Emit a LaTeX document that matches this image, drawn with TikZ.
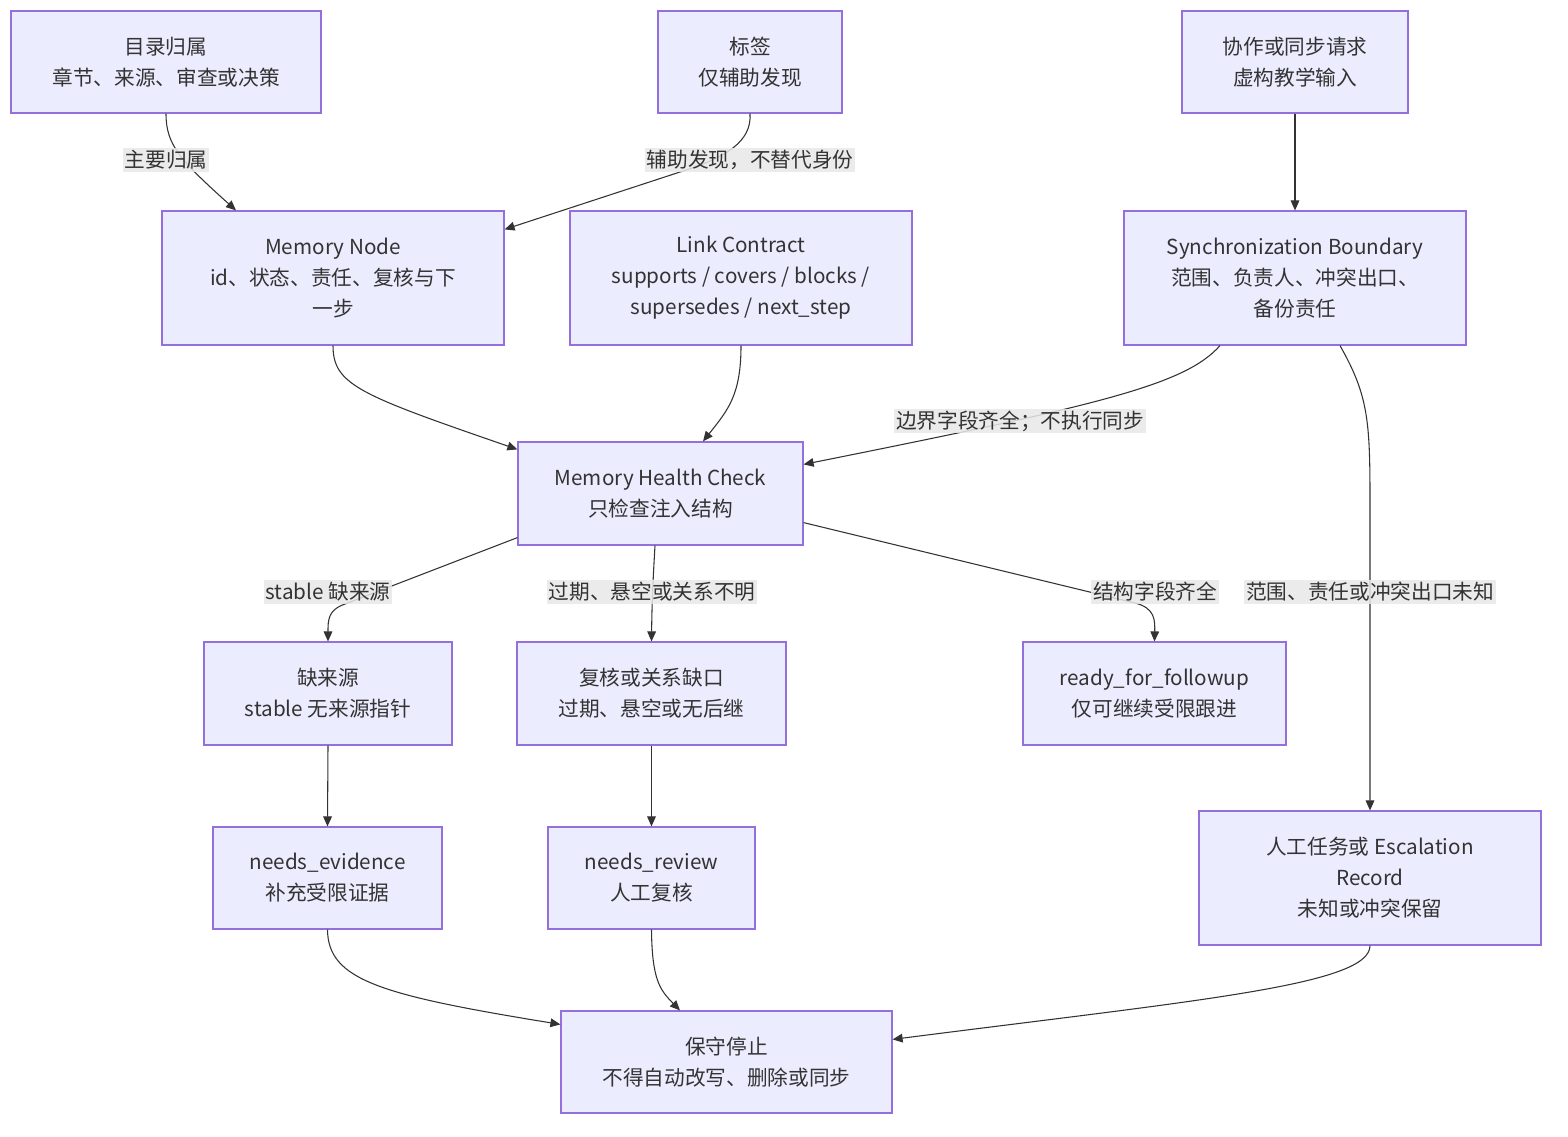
\documentclass[tikz,border=0pt]{standalone}
\usepackage{fontspec}
\setmainfont{Noto Sans CJK SC}
\usetikzlibrary{arrows.meta,calc}
\definecolor{nodefill}{HTML}{ECECFF}
\definecolor{nodeline}{HTML}{9370DB}
\definecolor{edgec}{HTML}{333333}
\definecolor{lblbg}{HTML}{E8E8E8}
\begin{document}
\begin{tikzpicture}[x=0.75pt,y=-0.75pt,
  box/.style={draw=nodeline,fill=nodefill,line width=0.9pt,align=center,text=edgec,
    font=\fontsize{15.5}{23.25}\selectfont,inner sep=0pt,anchor=center},
  lbl/.style={fill=lblbg,fill opacity=0.85,text opacity=1,text=edgec,inner sep=1.5pt,
    font=\fontsize{15.5}{19}\selectfont,anchor=center},
  edge/.style={draw=edgec,line width=0.8pt,-{Triangle[length=7.5pt,width=6.5pt]}}]
\useasboundingbox[fill=white] (0,0) rectangle (1568,1136);

\node[box,minimum width=232.5pt,minimum height=76.5pt] (n1) at (166,62) {目录归属\\章节、来源、审查或决策};
\node[box,minimum width=138pt,minimum height=76.5pt] (n2) at (750,62) {标签\\仅辅助发现};
\node[box,minimum width=169.5pt,minimum height=76.5pt] (n3) at (1295,62) {协作或同步请求\\虚构教学输入};
\node[box,minimum width=256.5pt,minimum height=100.5pt] (n4) at (333,278) {Memory Node\\id、状态、责任、复核与下\\一步};
\node[box,minimum width=256.5pt,minimum height=100.5pt] (n5) at (741,278) {Link Contract\\supports / covers / blocks /\\supersedes / next\_step};
\node[box,minimum width=256.5pt,minimum height=100.5pt] (n6) at (1295,278) {Synchronization Boundary\\范围、负责人、冲突出口、\\备份责任};
\node[box,minimum width=213.75pt,minimum height=77.25pt] (n7) at (660.5,493.5) {Memory Health Check\\只检查注入结构};
\node[box,minimum width=186pt,minimum height=77.25pt] (n8) at (328,693.5) {缺来源\\stable 无来源指针};
\node[box,minimum width=201.75pt,minimum height=77.25pt] (n9) at (651.5,693.5) {复核或关系缺口\\过期、悬空或无后继};
\node[box,minimum width=197.25pt,minimum height=77.25pt] (n10) at (1154.5,693.5) {ready\_for\_followup\\仅可继续受限跟进};
\node[box,minimum width=171.75pt,minimum height=76.5pt] (n11) at (327.5,878) {needs\_evidence\\补充受限证据};
\node[box,minimum width=155.25pt,minimum height=76.5pt] (n12) at (651.5,878) {needs\_review\\人工复核};
\node[box,minimum width=256.5pt,minimum height=100.5pt] (n13) at (1370,878) {人工任务或 Escalation\\Record\\未知或冲突保留};
\node[box,minimum width=248.25pt,minimum height=76.5pt] (n14) at (726.5,1062) {保守停止\\不得自动改写、删除或同步};

% edges
\draw[edge] (n1.south) .. controls (166,145) and (180,160) .. ($(n4.north)+(-97,0)$);
\draw[edge] (n2.south) .. controls (752,142) and (725,158) .. (680,172) -- ($(n4.north east)+(0,19)$);
\draw[edge] (n3.south) -- (n6.north);
\draw[edge] (n4.south) .. controls (333,385) and (360,395) .. ($(n7.north west)+(0,8)$);
\draw[edge] (n5.south) .. controls (741,395) and (728,410) .. ($(n7.north)+(42.5,0)$);
\draw[edge] ($(n6.south)+(-75,0)$) .. controls (1185,385) and (1100,405) .. ($(n7.north east)+(0,23)$);
\draw[edge] ($(n6.south)+(45,0)$) .. controls (1368,395) and (1370,420) .. (1370,500) -- (n13.north);
\draw[edge] ($(n7.south west)+(0,-8)$) -- (345,604) .. controls (328,610) and (328,620) .. (n8.north);
\draw[edge] ($(n7.south)+(-5.5,0)$) .. controls (653,580) and (652,600) .. (n9.north);
\draw[edge] ($(n7.south east)+(0,-23)$) -- (1135,603) .. controls (1155,608) and (1155,620) .. (n10.north);
\draw[edge] (n8.south) -- (n11.north);
\draw[edge] (n9.south) -- (n12.north);
\draw[edge] (n11.south) .. controls (328,980) and (380,995) .. ($(n14.north west)+(0,14)$);
\draw[edge] (n12.south) .. controls (652,980) and (660,990) .. ($(n14.north)+(-46.5,0)$);
\draw[edge] (n13.south) .. controls (1370,985) and (1200,1000) .. ($(n14.north east)+(0,29)$);

% edge labels
\node[lbl] (l1) at (166,160) {主要归属};
\node[lbl] (l2) at (750,160) {辅助发现，不替代身份};
\node[lbl] (l3) at (1020,421) {边界字段齐全；不执行同步};
\node[lbl] (l4) at (1370,592) {范围、责任或冲突出口未知};
\node[lbl] (l5) at (328,592) {stable 缺来源};
\node[lbl] (l6) at (652,592) {过期、悬空或关系不明};
\node[lbl] (l7) at (1155,592) {结构字段齐全};
\end{tikzpicture}
\end{document}
